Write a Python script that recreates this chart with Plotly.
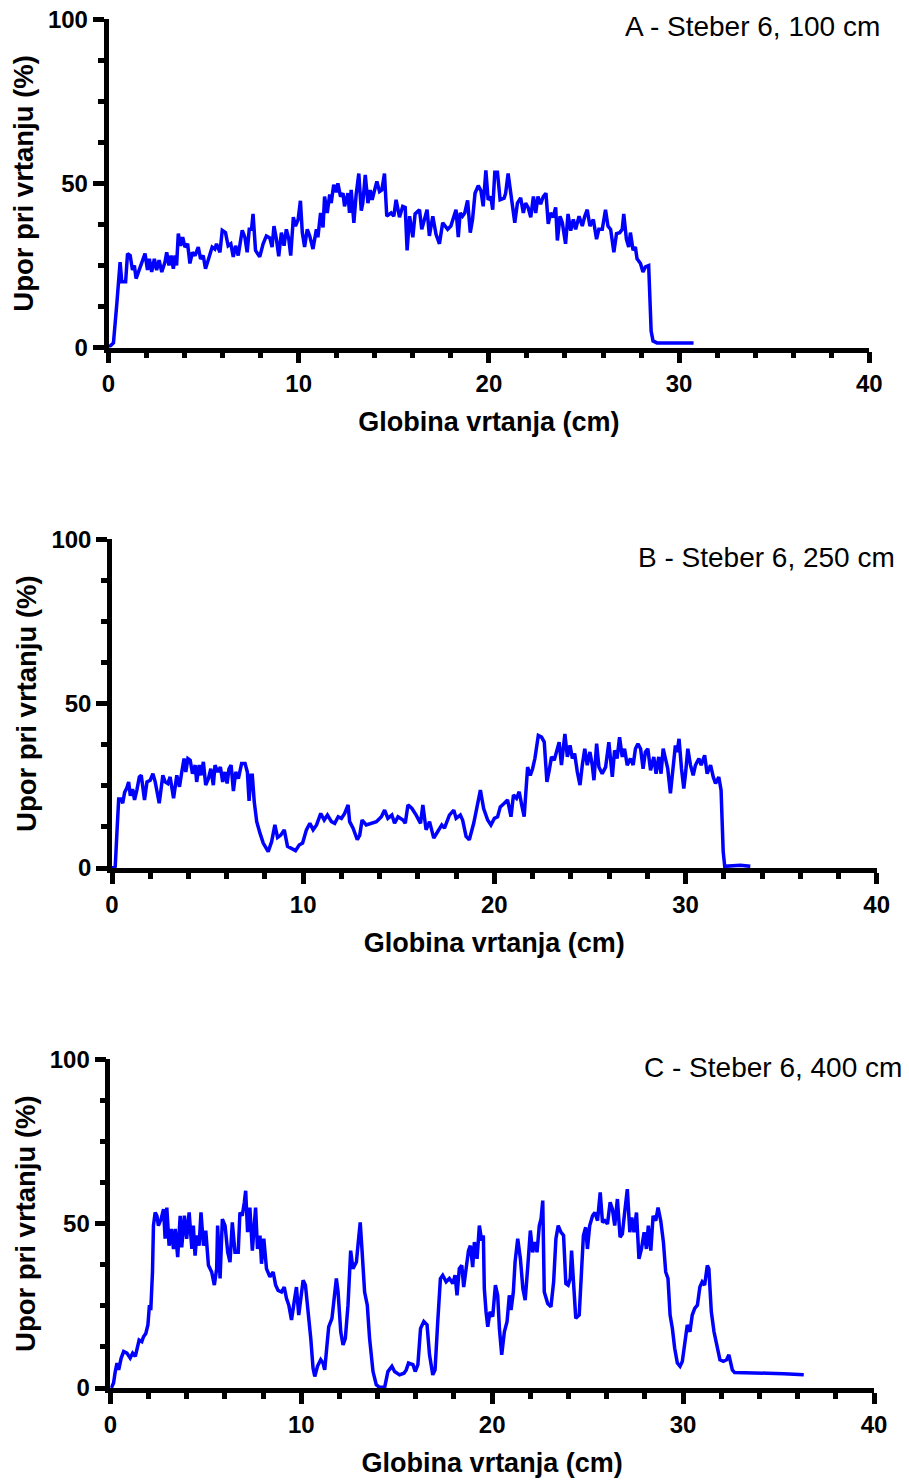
import plotly.graph_objects as go

# ---------------- data ----------------
xA = [0, 0.26, 0.44, 0.52, 0.61, 0.7, 0.9, 1.0, 1.14, 1.26, 1.36, 1.45, 1.57, 1.84, 1.92, 2.05, 2.15, 2.27,
      2.41, 2.53, 2.66, 2.8, 2.97, 3.06, 3.18, 3.29, 3.41, 3.5, 3.58, 3.67, 3.79, 3.9, 4.02, 4.16, 4.28, 4.41,
      4.55, 4.72, 4.84, 4.98, 5.1, 5.24, 5.45, 5.59, 5.68, 5.86, 5.98, 6.15, 6.29, 6.43, 6.56, 6.68, 6.82,
      7.03, 7.17, 7.29, 7.4, 7.52, 7.6, 7.73, 7.95, 8.13, 8.3, 8.48, 8.6, 8.7, 8.83, 8.95, 9.09, 9.23, 9.35,
      9.48, 9.58, 9.72, 9.83, 9.97, 10.09, 10.19, 10.31, 10.45, 10.58, 10.75, 10.93, 11.01, 11.15, 11.28,
      11.36, 11.5, 11.63, 11.71, 11.84, 11.98, 12.06, 12.2, 12.33, 12.41, 12.59, 12.67, 12.76, 12.9, 13.02,
      13.16, 13.29, 13.37, 13.5, 13.64, 13.76, 13.86, 13.99, 14.11, 14.25, 14.37, 14.51, 14.63, 14.86, 15.0,
      15.12, 15.3, 15.47, 15.6, 15.7, 15.83, 16.0, 16.12, 16.35, 16.47, 16.61, 16.75, 16.87, 17.05, 17.22,
      17.4, 17.57, 17.83, 18.0, 18.14, 18.27, 18.39, 18.49, 18.61, 18.73, 18.88, 19.02, 19.14, 19.27, 19.44,
      19.58, 19.7, 19.84, 19.96, 20.1, 20.2, 20.31, 20.45, 20.59, 20.8, 20.88, 21.01, 21.15, 21.24, 21.36,
      21.5, 21.67, 21.81, 21.93, 22.06, 22.2, 22.34, 22.46, 22.58, 22.72, 22.86, 23.0, 23.12, 23.24, 23.38,
      23.51, 23.6, 23.74, 23.86, 24.03, 24.16, 24.3, 24.44, 24.56, 24.74, 24.91, 25.04, 25.17, 25.31, 25.49,
      25.66, 25.78, 25.96, 26.13, 26.26, 26.4, 26.57, 26.71, 26.88, 27.01, 27.09, 27.23, 27.35, 27.44, 27.58,
      27.7, 27.79, 27.97, 28.1, 28.23, 28.4, 28.46, 28.53, 28.63, 28.84, 29.89, 30.76]
yA = [0, 1.4, 13.5, 21, 26, 20, 20, 28.6, 28, 23.6, 25, 21, 23, 27, 28.6, 23.6, 27, 23,
      27, 23.6, 26.6, 23, 26, 29, 25, 28, 24, 28, 25, 34.7, 31, 33.6, 30.6, 31.6, 25.6, 29,
      28, 30.6, 27, 28, 24, 26.6, 30.6, 30, 31.6, 29, 35.7, 35, 31, 31.6, 27.6, 31, 28,
      35.7, 33.6, 29, 36, 36, 40.7, 29.6, 27.6, 31.6, 34, 33.4, 30.6, 37, 33, 27.8, 35, 31, 36,
      33, 28, 39.7, 37, 39, 44.7, 35, 30.6, 36, 34, 30, 36, 33.6, 41, 36.6,
      46, 41, 46.6, 44, 49.6, 47.3, 50, 46, 47, 43, 47, 41, 48, 38, 46.6,
      53, 41.7, 44, 52.6, 44, 48, 45, 48, 50.6, 47.5, 48, 53, 40, 41, 40,
      45, 39.7, 43, 42.7, 29.6, 40, 33.6, 40.7, 42, 36, 39, 42, 34, 40, 34.5,
      31.6, 38, 36, 37, 40, 42, 33.6, 41, 40, 41, 44.8, 35, 39, 47, 49.3,
      47.8, 43, 54, 45, 46, 42, 53.4, 53.4, 45, 45.5, 47, 53, 47, 43, 38,
      44, 45.6, 41, 44, 42.7, 39.7, 46, 41, 46, 43.7, 46, 47, 37.7, 41, 39.7,
      42.7, 32.6, 40, 38, 31.6, 40.7, 35.6, 39, 36, 40, 37, 40, 42, 37, 39,
      33, 36, 36, 42, 37, 36, 29, 34.7, 35, 36, 40.7, 33, 30.6, 35, 29.6,
      30.6, 27, 25.6, 23, 24.6, 25, 17, 5, 2, 1.4, 1.4, 1.4]

xB = [0, 0.17, 0.26, 0.35, 0.47, 0.56, 0.66, 0.78, 0.87, 0.96, 1.08, 1.18, 1.3, 1.43, 1.53, 1.7, 1.83, 2.0,
      2.14, 2.26, 2.47, 2.66, 2.78, 2.92, 3.04, 3.22, 3.39, 3.53, 3.65, 3.77, 3.86, 3.97, 4.09, 4.21, 4.35,
      4.43, 4.56, 4.66, 4.78, 4.9, 5.04, 5.17, 5.3, 5.39, 5.53, 5.67, 5.79, 5.91, 6.02, 6.12, 6.23, 6.35,
      6.47, 6.61, 6.78, 6.96, 7.08, 7.17, 7.27, 7.34, 7.44, 7.57, 7.74, 7.91, 8.17, 8.35, 8.52, 8.66, 8.83,
      9.01, 9.18, 9.39, 9.6, 9.79, 9.97, 10.17, 10.35, 10.52, 10.7, 10.92, 11.1, 11.27, 11.48, 11.65, 11.83,
      12.0, 12.17, 12.35, 12.43, 12.61, 12.83, 12.96, 13.08, 13.3, 13.57, 13.83, 14.09, 14.26, 14.43, 14.64,
      14.78, 14.96, 15.22, 15.34, 15.48, 15.69, 15.91, 16.14, 16.26, 16.43, 16.61, 16.83, 17.04, 17.25,
      17.39, 17.65, 17.88, 18.0, 18.22, 18.34, 18.52, 18.69, 18.92, 19.1, 19.27, 19.44, 19.65, 19.82, 20.0,
      20.17, 20.31, 20.52, 20.69, 20.87, 21.0, 21.16, 21.3, 21.43, 21.56, 21.74, 21.88, 22.0, 22.12, 22.3,
      22.47, 22.61, 22.75, 22.87, 22.99, 23.13, 23.27, 23.39, 23.51, 23.69, 23.82, 23.96, 24.08, 24.2, 24.34,
      24.48, 24.6, 24.73, 24.86, 25.0, 25.12, 25.21, 25.35, 25.47, 25.64, 25.82, 25.99, 26.17, 26.29, 26.42,
      26.55, 26.69, 26.81, 26.95, 27.12, 27.26, 27.38, 27.51, 27.65, 27.78, 27.9, 28.03, 28.17, 28.34, 28.46,
      28.6, 28.72, 28.83, 28.95, 29.07, 29.21, 29.35, 29.47, 29.56, 29.66, 29.79, 29.91, 30.0, 30.12, 30.26,
      30.4, 30.52, 30.7, 30.82, 31.0, 31.13, 31.31, 31.45, 31.57, 31.74, 31.86, 31.91, 31.97, 32.05, 32.35,
      32.87, 33.39]
yB = [0, 0.5, 11, 21, 21, 19.7, 23, 24.4, 26.2, 22, 24, 20.7, 23.7, 27.7, 28.2, 20.7, 26.2, 26.7,
      28.7, 26.2, 19.7, 28.2, 26.2, 25.7, 27.7, 21.2, 28.2, 24.7, 29.2, 33.3, 29.2, 33.3, 32.8, 28.7, 31.3,
      26.2, 31.3, 28.2, 32.3, 25.2, 27.2, 30.2, 25.2, 31.3, 29.2, 30.7, 26.2, 29.2, 25.7, 30.2, 31.3, 23.4,
      29.2, 27.2, 31.8, 31.8, 29.2, 20.4, 28.2, 28.2, 20.2, 14.1, 10.6, 7.6, 5, 8, 13.1, 9.3, 10,
      11.6, 6.6, 6, 5.3, 7, 7.6, 11.6, 13.6, 11.6, 13.1, 16.6, 14.6, 16.1, 14.1, 13.6, 15.6,
      15.1, 16.6, 19.2, 14.1, 12.1, 8.6, 10, 14.6, 13.1, 13.6, 14.1, 15.6, 17.6, 15.1, 16.1,
      13.6, 15.6, 14.6, 13.6, 19.2, 18.1, 16.1, 13.6, 19.2, 11.6, 14.1, 9.1, 11.1, 13.1,
      12.1, 16.1, 17.6, 15.1, 16.1, 14.6, 9.6, 8.6, 13.6, 19.2, 23.7, 18.1, 14.6, 13.1, 15.1,
      15.6, 18.6, 19.7, 20.7, 15.6, 22.2, 21.2, 23.2, 19.2, 15.6, 30.7, 28.2, 30.2, 33.3, 40.3,
      39.8, 38.3, 26.2, 29.7, 33.8, 32.8, 35.3, 38.3, 31.3, 40.8, 33.8, 37.3, 33.3, 34.8, 29.2,
      25.2, 31.3, 36.3, 31.3, 35.3, 31.3, 26.7, 37.8, 30.7, 28.7, 30.7, 38.3, 27.7, 35.8, 33.3,
      39.8, 33.8, 36.3, 31.3, 33.3, 31.3, 36.3, 37.8, 36.3, 30.2, 35.3, 36.3, 29.7, 33.8, 28.7,
      33.8, 28.7, 36.3, 33.3, 30.2, 22.7, 31.3, 37.3, 35.3, 39.3, 30.2, 24.2, 28.7, 36.3, 31.3,
      28.2, 31.3, 33.3, 31.3, 34.3, 28.7, 31.3, 27.7, 25.7, 27.7, 23.7, 15.1, 5, 0.5, 0.7,
      0.8, 0.5]

xC = [0.05, 0.17, 0.26, 0.35, 0.44, 0.57, 0.7, 0.87, 1.04, 1.17, 1.31, 1.39, 1.51, 1.65, 1.74, 1.86, 1.97,
      2.05, 2.12, 2.21, 2.26, 2.35, 2.44, 2.52, 2.66, 2.79, 2.87, 2.96, 3.08, 3.19, 3.31, 3.4, 3.53, 3.66,
      3.74, 3.88, 4.0, 4.13, 4.27, 4.35, 4.44, 4.53, 4.65, 4.75, 4.88, 5.0, 5.14, 5.31, 5.45, 5.57, 5.62,
      5.75, 5.87, 6.01, 6.15, 6.27, 6.39, 6.53, 6.7, 6.79, 6.91, 7.02, 7.09, 7.19, 7.31, 7.44, 7.54, 7.61,
      7.71, 7.84, 7.92, 8.04, 8.18, 8.36, 8.53, 8.66, 8.79, 8.97, 9.11, 9.23, 9.35, 9.49, 9.63, 9.75, 9.87,
      10.01, 10.1, 10.22, 10.36, 10.5, 10.62, 10.71, 10.85, 11.02, 11.14, 11.23, 11.35, 11.44, 11.61, 11.72,
      11.84, 11.93, 12.07, 12.19, 12.31, 12.45, 12.59, 12.71, 12.89, 12.97, 13.09, 13.18, 13.32, 13.46,
      13.58, 13.76, 13.93, 14.1, 14.37, 14.54, 14.75, 14.89, 15.15, 15.38, 15.5, 15.62, 15.85, 15.97, 16.11,
      16.25, 16.42, 16.59, 16.72, 16.89, 17.01, 17.15, 17.29, 17.41, 17.59, 17.76, 17.94, 18.06, 18.16,
      18.28, 18.41, 18.51, 18.64, 18.76, 18.86, 18.98, 19.07, 19.21, 19.33, 19.45, 19.54, 19.59, 19.68,
      19.77, 19.89, 20.03, 20.17, 20.29, 20.38, 20.5, 20.64, 20.78, 20.9, 20.99, 21.11, 21.2, 21.34, 21.48,
      21.61, 21.73, 21.87, 22.0, 22.12, 22.25, 22.35, 22.47, 22.56, 22.65, 22.73, 22.91, 23.08, 23.22,
      23.34, 23.46, 23.6, 23.74, 23.86, 23.98, 24.09, 24.16, 24.26, 24.38, 24.56, 24.68, 24.78, 24.9, 24.99,
      25.11, 25.26, 25.38, 25.52, 25.66, 25.78, 25.9, 26.04, 26.18, 26.3, 26.42, 26.56, 26.7, 26.82, 26.94,
      27.08, 27.21, 27.31, 27.43, 27.56, 27.69, 27.82, 27.96, 28.08, 28.18, 28.31, 28.43, 28.57, 28.69,
      28.83, 28.97, 29.09, 29.21, 29.32, 29.44, 29.56, 29.7, 29.84, 29.96, 30.08, 30.22, 30.36, 30.48,
      30.61, 30.75, 30.88, 31.0, 31.13, 31.27, 31.35, 31.48, 31.62, 31.76, 31.93, 32.11, 32.28, 32.4,
      32.58, 32.7, 33.54, 34.41, 35.28, 36.32]
yC = [0, 1.5, 5, 7.6, 5.5, 9.1, 11.1, 10.6, 9.1, 10.6, 9.6, 12.1, 14.6, 14.1, 15.6, 16.6, 19.2,
      25.2, 23.7, 35.3, 49.4, 53.4, 52.4, 49.4, 51.4, 54.4, 45.4, 54.9, 43.3, 48.4, 42.3, 48.4, 39.8, 52.4,
      42.8, 52.4, 45.4, 53.4, 42.3, 49.4, 40.3, 46.4, 43.3, 53.4, 43.3, 47.9, 37.3, 35.3, 31.3, 36.3, 49.4,
      33.3, 51.4, 49.4, 41.3, 38.3, 50.4, 41.3, 41.3, 53.4, 52.4, 56.5, 60, 47.4, 54.9, 41.8, 49.4, 54.9,
      42.3, 46.4, 37.8, 45.4, 36.3, 33.8, 35.3, 31.3, 29.7, 29.2, 30.7, 27.2, 25.2, 20.7, 26.2, 30.7, 22.2,
      28.2, 32.8, 31.3, 24.2, 15.1, 6, 3.5, 6.6, 8.6, 7.6, 5.5, 13.1, 18.6, 21.2, 27.2,
      33.3, 29.2, 17.1, 13.1, 15.1, 25.2, 41.8, 36.3, 38.3, 43.3, 50.4, 42.3, 29.2, 25.2,
      15.1, 5, 1, 0.2, 0.2, 5, 6.6, 5, 4, 4.5, 5.5, 7.6, 7.1, 5, 7.1,
      18.1, 20.2, 19.2, 10.1, 4, 5.5, 20.2, 33.3, 34.3, 32.3, 33.3, 31.8, 34.3, 28.2,
      36.3, 37.3, 30.7, 36.3, 41.8, 43.3, 36.8, 44.4, 39.3, 49.4, 44.9, 46.4, 30.2, 23.2,
      18.6, 23.2, 21.7, 31.3, 28.2, 18.1, 10.1, 17.1, 20.2, 28.2, 23.7, 29.2, 38.3, 45.4, 39.3,
      30.2, 26.7, 37.3, 47.9, 41.3, 44.4, 41.3, 49.4, 51.4, 57, 29.2, 25.7, 24.7, 32.3,
      45.4, 49.4, 47.4, 46.4, 31.8, 31.3, 33.3, 41.8, 32.3, 21.2, 22.2, 35.3, 46.4, 48.9, 42.3,
      49.4, 52.4, 53.4, 50.9, 59.5, 50.4, 50.9, 49.9, 56.5, 54.4, 49.4, 57.5, 45.9, 46.9, 53.4,
      60.5, 47.4, 51.9, 47.4, 53.4, 39.3, 42.3, 47.4, 42.3, 49.4, 41.8, 52.4, 50.9, 54.9,
      50.9, 44.4, 35.3, 33.3, 22.2, 18.1, 12.1, 7.6, 6.6, 8.1, 12.6, 19.2, 17.1, 22.2,
      24.2, 25.2, 30.7, 32.3, 31.3, 37.3, 36.3, 23.2, 17.1, 13.1, 8.6, 8.1, 8.6, 10.1,
      5.5, 4.7, 4.7, 4.5, 4.3, 4.0]

panel_titles = ["A - Steber 6, 100 cm", "B - Steber 6, 250 cm", "C - Steber 6, 400 cm"]
x_title = "Globina vrtanja (cm)"
y_title = "Upor pri vrtanju (%)"
x_ticks = [0, 10, 20, 30, 40]
y_ticks = [0, 50, 100]

# ---------------- layout geometry (pixels of a 909x1481 page) ----------------
W, H = 909, 1481
# (left, right, top, bottom) pixel positions of each plot area
boxes = [(108.5, 869.3, 19.3, 347.5),
         (112.0, 876.7, 539.3, 868.0),
         (110.3, 874.0, 1059.3, 1388.0)]
title_pos = [(882, 26), (897, 557), (904, 1067)]

FONT = "Arial, Liberation Sans, sans-serif"
fig = go.Figure()
series = [(xA, yA), (xB, yB), (xC, yC)]

layout = dict(
    width=W, height=H, margin=dict(l=0, r=0, t=0, b=0),
    paper_bgcolor="white", plot_bgcolor="white", showlegend=False,
    font=dict(family=FONT, color="black"),
    annotations=[],
)

for i, ((xs, ys), (l, r, t, b)) in enumerate(zip(series, boxes)):
    n = "" if i == 0 else str(i + 1)
    fig.add_trace(go.Scatter(x=xs, y=ys, mode="lines",
                             line=dict(color="#0000FF", width=3.5),
                             xaxis="x" + n, yaxis="y" + n, hoverinfo="skip"))
    axcommon = dict(showline=True, linecolor="black", linewidth=4.5, ticks="outside",
                    tickwidth=4.5, tickcolor="black", showgrid=False, zeroline=False,
                    tickfont=dict(family=FONT, size=24, color="black", weight="bold"),
                    automargin=False, fixedrange=True)
    layout["xaxis" + n] = dict(
        axcommon, domain=[l / W, r / W], range=[0, 40], tickvals=x_ticks, ticklen=11,
        anchor="y" + n,
        minor=dict(ticks="outside", dtick=2, tick0=0, ticklen=6, tickwidth=4.5, tickcolor="black"),
        title=dict(text=x_title, font=dict(family=FONT, size=27, color="black", weight="bold"),
                   standoff=18),
    )
    layout["yaxis" + n] = dict(
        axcommon, domain=[(H - b) / H, (H - t) / H], range=[0, 100], tickvals=y_ticks, ticklen=11,
        anchor="x" + n,
        minor=dict(ticks="outside", dtick=12.5, tick0=0, ticklen=6, tickwidth=4.5, tickcolor="black"),
        title=dict(text=y_title, font=dict(family=FONT, size=27.5, color="black", weight="bold"),
                   standoff=8),
    )
    tx, ty = title_pos[i]
    layout["annotations"].append(dict(
        text=panel_titles[i], xref="paper", yref="paper", x=tx / W, y=1 - ty / H,
        xanchor="right", yanchor="middle", showarrow=False,
        font=dict(family=FONT, size=28, color="black")))

fig.update_layout(**layout)
fig.write_html("out.html", config={"displayModeBar": False},
               post_script="document.body.style.margin='0';document.body.style.overflow='hidden';")
